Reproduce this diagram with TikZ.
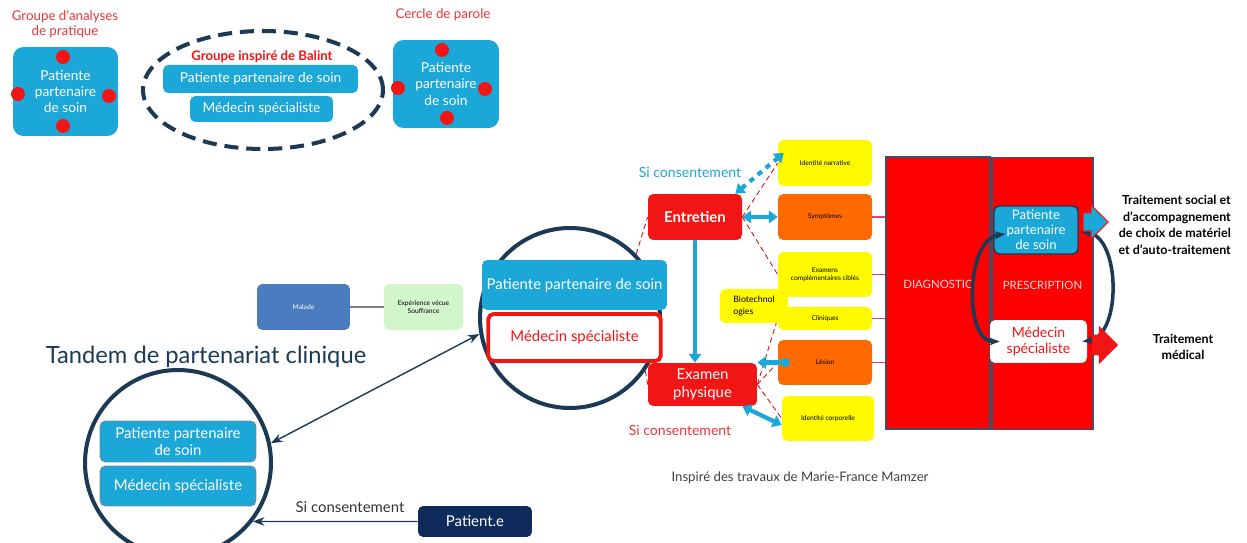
\documentclass[tikz,border=0pt]{standalone}
\usepackage{fontspec}
\setmainfont{Lato}
\usetikzlibrary{positioning, arrows.meta, shapes.geometric, shapes.arrows, calc}
\definecolor{tCyan}{HTML}{1BA7D8}
\definecolor{tNavy}{HTML}{1C3A55}
\definecolor{tRed}{HTML}{F21515}
\definecolor{tLabelRed}{HTML}{E8353A}
\definecolor{tOrange}{HTML}{FF6A00}
\definecolor{tYellow}{HTML}{FFFA00}
\definecolor{tSteel}{HTML}{4C7CC0}
\definecolor{tMint}{HTML}{D2F5CB}
\definecolor{tInk}{HTML}{0E2B5C}
\definecolor{tPink}{HTML}{E2406E}
\definecolor{tSlate}{HTML}{3E4E66}
\begin{document}
\begin{tikzpicture}[x=0.02cm, y=-0.02cm,
  box/.style={rounded corners=3pt, align=center, inner sep=1pt},
  bluebox/.style={box, fill=tCyan, text=white, font=\fontsize{7.8}{9.2}\selectfont},
  tinybox/.style={box, text=black, font=\fontsize{3.8}{4.6}\selectfont, minimum width=1.88cm, minimum height=0.92cm},
  redbox/.style={box, fill=tRed, text=white, font=\bfseries\fontsize{8.5}{10}\selectfont},
  redtag/.style={text=tLabelRed, font=\fontsize{7.6}{9}\selectfont, align=center},
  ring/.style={circle, draw=tNavy, line width=2.3pt},
  redlink/.style={tRed!85!black, line width=0.5pt, densely dashed},
  flow/.style={tCyan, line width=2.4pt, -{Triangle[length=5pt,width=7pt]}},
  cyclearrow/.style={tNavy, line width=2pt, {Stealth[length=6pt]}-{Stealth[length=6pt]}},
  treat/.style={font=\bfseries\fontsize{7.1}{9.4}\selectfont, text=black},
]
\useasboundingbox (0,0) rectangle (1247,543);

% groupes en haut
\node[redtag] (gapTitle) at (65,24) {Groupe d’analyses\\de pratique};
\node[bluebox, minimum width=2.1cm, minimum height=1.78cm, rounded corners=6pt] (gapBox) at (65.5,91.5) {Patiente\\partenaire\\de soin};
\foreach \p in {(63,57),(18,94),(109,96),(63,126)}
  \fill[tRed] \p circle (0.14cm);

\node[ellipse, draw=tNavy, line width=2.3pt, dash pattern=on 8pt off 4.5pt, minimum width=4.8cm, minimum height=2.36cm] (balintRing) at (263,90) {};
\node[text=tRed, font=\bfseries\fontsize{7.5}{9}\selectfont] (balintTitle) at (262,57) {Groupe inspiré de Balint};
\node[bluebox, minimum width=3.9cm, minimum height=0.56cm] (balintPat) at (260.5,79) {Patiente partenaire de soin};
\node[bluebox, minimum width=2.86cm, minimum height=0.52cm] (balintMed) at (261.5,109) {Médecin spécialiste};

\node[redtag] (cercleTitle) at (443,15) {Cercle de parole};
\node[bluebox, minimum width=2.12cm, minimum height=1.76cm, rounded corners=6pt] (cercleBox) at (446,84) {Patiente\\partenaire\\de soin};
\foreach \p in {(442,50),(398,88),(485,89),(447,118)}
  \fill[tRed] \p circle (0.14cm);

% tandem
\node[box, fill=tSteel, text=white, font=\fontsize{3.8}{4.6}\selectfont, minimum width=1.86cm, minimum height=0.92cm] (malade) at (303.5,307) {Malade};
\node[tinybox, fill=tMint, minimum width=1.58cm] (vecu) at (423.5,307) {Expérience vécue\\Souffrance};
\draw[gray, line width=1.6pt] (malade) -- (vecu);

\node[ring, minimum size=3.6cm] (tandemRing) at (570,318) {};
\node[bluebox, minimum width=3.7cm, minimum height=1cm, font=\fontsize{8.5}{10}\selectfont] (tandemPat) at (574.5,285) {Patiente partenaire de soin};
\node[box, fill=white, draw=tRed, line width=2.2pt, text=tRed, minimum width=3.45cm, minimum height=0.94cm, font=\fontsize{8.5}{10}\selectfont] (tandemMed) at (574.5,337.5) {Médecin spécialiste};

\node[text=tNavy, font=\fontsize{13.5}{16}\selectfont] (tandemTitle) at (206,357) {Tandem de partenariat clinique};

\node[ring, minimum size=3.72cm] (lowRing) at (178,463) {};
\node[bluebox, draw=tNavy!60, minimum width=3.12cm, minimum height=0.82cm, font=\fontsize{8.5}{10}\selectfont] (lowPat) at (178,441.5) {Patiente partenaire\\de soin};
\node[bluebox, draw=tNavy!60, minimum width=3.12cm, minimum height=0.8cm, font=\fontsize{8.5}{10}\selectfont] (lowMed) at (178,486) {Médecin spécialiste};

\node[box, fill=tInk, text=white, minimum width=2.28cm, minimum height=0.62cm, font=\fontsize{8.5}{10}\selectfont] (patiente) at (475,521.5) {Patient.e};
\node[text=black!80, font=\fontsize{8.5}{10}\selectfont] (consLow) at (350,507) {Si consentement};
\draw[tNavy, line width=0.8pt, -{Stealth}] (patiente.west) -- (lowRing.-38);
\draw[tNavy, line width=0.8pt, {Stealth}-{Stealth}] (lowRing.12) -- (tandemRing.190);

% entretien et examen
\node[text=tCyan, font=\fontsize{8}{10}\selectfont] (consTop) at (690,172) {Si consentement};
\node[redbox, minimum width=1.88cm, minimum height=0.92cm] (entretien) at (695,217) {Entretien};
\node[redbox, font=\fontsize{8.5}{10}\selectfont, minimum width=2.18cm, minimum height=0.86cm] (examen) at (702.5,384.5) {Examen\\physique};
\node[text=tLabelRed, font=\fontsize{8}{10}\selectfont] (consBottom) at (680,430) {Si consentement};

\node[tinybox, fill=tYellow] (idNarr) at (825,163) {Identité narrative};
\node[tinybox, fill=tOrange] (sympt) at (825,217) {Symptômes};
\node[tinybox, fill=tYellow, minimum height=0.9cm] (examens) at (825,274.5) {Examens\\complémentaires ciblés};
\node[tinybox, fill=tYellow, minimum height=0.46cm] (cliniques) at (825,318.5) {Cliniques};
\node[tinybox, fill=tOrange, minimum height=0.9cm] (lesion) at (825,362.5) {Lésion};
\node[tinybox, fill=tYellow, minimum width=1.84cm, minimum height=0.9cm] (idCorp) at (828,418.5) {Identité corporelle};

\draw[redlink] (tandemRing.44) -- (entretien.west);
\draw[redlink] (tandemRing.-35) -- (examen.west);
\draw[redlink] (entretien.east) -- (idNarr.west);
\draw[redlink] (entretien.east) -- (examens.west);
\draw[redlink] (examen.east) -- (cliniques.west);
\draw[redlink] (examen.east) -- (lesion.west);
\draw[redlink] (examen.east) -- (idCorp.west);

\node[tinybox, fill=tYellow, align=left, font=\fontsize{5}{7}\selectfont, minimum width=1.36cm, minimum height=0.68cm] (biotech) at (754,306) {Biotechnol\\ogies};

\draw[flow, dashed, {Triangle[length=5pt,width=7pt]}-{Triangle[length=5pt,width=7pt]}] ([xshift=-0.14cm]entretien.north east) -- ([shift={(6,-10)}]idNarr.west);
\draw[flow, {Triangle[length=5pt,width=7pt]}-{Triangle[length=5pt,width=7pt]}] (entretien.east) -- (sympt.west);
\draw[flow] (entretien.south) -- (entretien.south |- examen.north);
\draw[flow, {Triangle[length=5pt,width=7pt]}-{Circle[length=5pt]}] (lesion.west -| examen.east) -- ([xshift=0.24cm]lesion.west);
\draw[flow, {Triangle[length=5pt,width=7pt]}-{Triangle[length=5pt,width=7pt]}] ([xshift=-0.3cm]examen.south east) -- ([yshift=-0.13cm]idCorp.west);

% diagnostic et prescription
\node[box, rounded corners=0pt, fill=red, draw=tSlate, line width=0.8pt, text=red!15, text depth=0.33cm, font=\fontsize{6.5}{8}\selectfont, minimum width=2.08cm, minimum height=5.44cm] (diag) at (938,293) {DIAGNOSTIC};
\node[box, rounded corners=0pt, fill=red, draw=tSlate, line width=0.8pt, text=red!15, text depth=0.33cm, font=\fontsize{6.5}{8}\selectfont, minimum width=2.02cm, minimum height=5.44cm] (presc) at (1042.5,293.5) {PRESCRIPTION};
\foreach \b in {sympt, examens, cliniques, lesion}
  \draw[tPink, line width=0.6pt] (\b.east) -- (\b.east -| diag.west);

\node[bluebox, draw=tNavy, line width=0.8pt, minimum width=1.68cm, minimum height=0.96cm, font=\fontsize{7.5}{8.6}\selectfont] (prescPat) at (1036,230) {Patiente\\partenaire\\de soin};
\node[box, fill=white, text=tRed, minimum width=1.94cm, minimum height=0.86cm, font=\fontsize{8}{9.5}\selectfont] (prescMed) at (1038.5,341.5) {Médecin\\spécialiste};

\draw[cyclearrow] ([shift={(12,4)}]prescPat.west) .. controls +(-40,5) and +(-36,0) .. ([xshift=0.2cm]prescMed.west);
\draw[cyclearrow] ([xshift=-0.1cm]prescMed.east) .. controls +(40,-5) and +(40,3) .. ([shift={(2,2)}]prescPat.east);

\node[single arrow, fill=tCyan, draw=tRed, line width=0.6pt, inner xsep=0pt, inner ysep=0.17cm, single arrow head extend=0.16cm, minimum height=0.5cm] (arrSocial) at (1091,222) {};
\node[single arrow, fill=tRed, inner xsep=0pt, inner ysep=0.2cm, single arrow head extend=0.18cm, minimum height=0.52cm] (arrMed) at (1100,345) {};

\node[treat, anchor=east, align=right] (traitSocial) at (1237,225) {Traitement social et\\d’accompagnement\\de choix de matériel\\et d’auto-traitement};
\node[treat, align=center] (traitMed) at (1183,347) {Traitement\\médical};

\node[text=black!75, font=\fontsize{7.5}{9}\selectfont] (credit) at (800,478) {Inspiré des travaux de Marie-France Mamzer};
\end{tikzpicture}
\end{document}
